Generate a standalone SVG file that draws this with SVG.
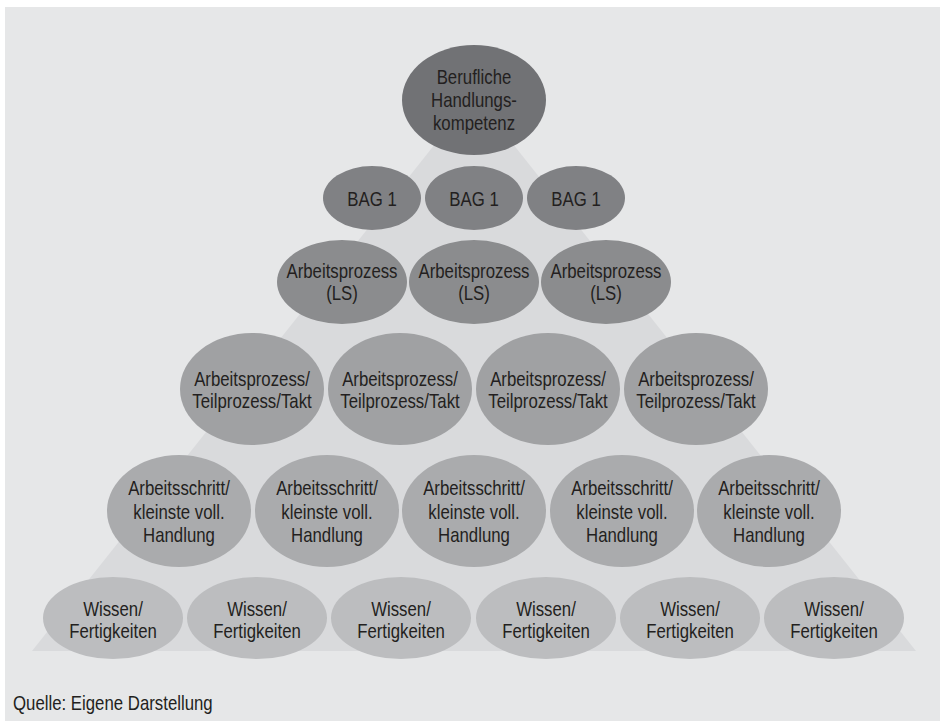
<svg xmlns="http://www.w3.org/2000/svg" width="940" height="721" viewBox="0 0 940 721">
<style>
text{font-family:"Liberation Sans",Arial,sans-serif;font-size:20px;fill:#231f20;text-anchor:middle}
.n1{fill:#717275}.n2{fill:#808184}.n3{fill:#8b8c8e}.n4{fill:#a0a1a3}.n5{fill:#aaabad}.n6{fill:#bcbdbf}
</style>
<rect width="940" height="721" fill="#ffffff"/>
<rect x="5" y="7" width="935" height="714" fill="#e6e7e8"/>
<polygon points="474,95 32,651 916,651" fill="#d9dadc"/>
<g id="connectors"></g>
<g id="top"><ellipse class="n1" cx="474" cy="100" rx="72" ry="55"/><g transform="translate(474 0) scale(0.84 1)"><text x="0" y="84">Berufliche</text><text x="0" y="107">Handlungs-</text><text x="0" y="130">kompetenz</text></g></g>
<g id="bag1"><ellipse class="n2" cx="372" cy="198" rx="49" ry="32"/><g transform="translate(372 0) scale(0.84 1)"><text x="0" y="206">BAG 1</text></g></g>
<g id="bag2"><ellipse class="n2" cx="474" cy="198" rx="49" ry="32"/><g transform="translate(474 0) scale(0.84 1)"><text x="0" y="206">BAG 1</text></g></g>
<g id="bag3"><ellipse class="n2" cx="576" cy="198" rx="49" ry="32"/><g transform="translate(576 0) scale(0.84 1)"><text x="0" y="206">BAG 1</text></g></g>
<g id="ls1"><ellipse class="n3" cx="342" cy="282" rx="65" ry="42"/><g transform="translate(342 0) scale(0.84 1)"><text x="0" y="278">Arbeitsprozess</text><text x="0" y="300">(LS)</text></g></g>
<g id="ls2"><ellipse class="n3" cx="474" cy="282" rx="65" ry="42"/><g transform="translate(474 0) scale(0.84 1)"><text x="0" y="278">Arbeitsprozess</text><text x="0" y="300">(LS)</text></g></g>
<g id="ls3"><ellipse class="n3" cx="606" cy="282" rx="65" ry="42"/><g transform="translate(606 0) scale(0.84 1)"><text x="0" y="278">Arbeitsprozess</text><text x="0" y="300">(LS)</text></g></g>
<g id="tp1"><ellipse class="n4" cx="252" cy="389" rx="72" ry="56"/><g transform="translate(252 0) scale(0.84 1)"><text x="0" y="386">Arbeitsprozess/</text><text x="0" y="408">Teilprozess/Takt</text></g></g>
<g id="tp2"><ellipse class="n4" cx="400" cy="389" rx="72" ry="56"/><g transform="translate(400 0) scale(0.84 1)"><text x="0" y="386">Arbeitsprozess/</text><text x="0" y="408">Teilprozess/Takt</text></g></g>
<g id="tp3"><ellipse class="n4" cx="548" cy="389" rx="72" ry="56"/><g transform="translate(548 0) scale(0.84 1)"><text x="0" y="386">Arbeitsprozess/</text><text x="0" y="408">Teilprozess/Takt</text></g></g>
<g id="tp4"><ellipse class="n4" cx="696" cy="389" rx="72" ry="56"/><g transform="translate(696 0) scale(0.84 1)"><text x="0" y="386">Arbeitsprozess/</text><text x="0" y="408">Teilprozess/Takt</text></g></g>
<g id="as1"><ellipse class="n5" cx="179" cy="511" rx="72" ry="56"/><g transform="translate(179 0) scale(0.84 1)"><text x="0" y="495">Arbeitsschritt/</text><text x="0" y="519">kleinste voll.</text><text x="0" y="542">Handlung</text></g></g>
<g id="as2"><ellipse class="n5" cx="327" cy="511" rx="72" ry="56"/><g transform="translate(327 0) scale(0.84 1)"><text x="0" y="495">Arbeitsschritt/</text><text x="0" y="519">kleinste voll.</text><text x="0" y="542">Handlung</text></g></g>
<g id="as3"><ellipse class="n5" cx="474" cy="511" rx="72" ry="56"/><g transform="translate(474 0) scale(0.84 1)"><text x="0" y="495">Arbeitsschritt/</text><text x="0" y="519">kleinste voll.</text><text x="0" y="542">Handlung</text></g></g>
<g id="as4"><ellipse class="n5" cx="622" cy="511" rx="72" ry="56"/><g transform="translate(622 0) scale(0.84 1)"><text x="0" y="495">Arbeitsschritt/</text><text x="0" y="519">kleinste voll.</text><text x="0" y="542">Handlung</text></g></g>
<g id="as5"><ellipse class="n5" cx="769" cy="511" rx="72" ry="56"/><g transform="translate(769 0) scale(0.84 1)"><text x="0" y="495">Arbeitsschritt/</text><text x="0" y="519">kleinste voll.</text><text x="0" y="542">Handlung</text></g></g>
<g id="wf1"><ellipse class="n6" cx="113" cy="618" rx="70" ry="41"/><g transform="translate(113 0) scale(0.84 1)"><text x="0" y="616">Wissen/</text><text x="0" y="638">Fertigkeiten</text></g></g>
<g id="wf2"><ellipse class="n6" cx="257" cy="618" rx="70" ry="41"/><g transform="translate(257 0) scale(0.84 1)"><text x="0" y="616">Wissen/</text><text x="0" y="638">Fertigkeiten</text></g></g>
<g id="wf3"><ellipse class="n6" cx="401" cy="618" rx="70" ry="41"/><g transform="translate(401 0) scale(0.84 1)"><text x="0" y="616">Wissen/</text><text x="0" y="638">Fertigkeiten</text></g></g>
<g id="wf4"><ellipse class="n6" cx="546" cy="618" rx="70" ry="41"/><g transform="translate(546 0) scale(0.84 1)"><text x="0" y="616">Wissen/</text><text x="0" y="638">Fertigkeiten</text></g></g>
<g id="wf5"><ellipse class="n6" cx="690" cy="618" rx="70" ry="41"/><g transform="translate(690 0) scale(0.84 1)"><text x="0" y="616">Wissen/</text><text x="0" y="638">Fertigkeiten</text></g></g>
<g id="wf6"><ellipse class="n6" cx="834" cy="618" rx="70" ry="41"/><g transform="translate(834 0) scale(0.84 1)"><text x="0" y="616">Wissen/</text><text x="0" y="638">Fertigkeiten</text></g></g>
<g transform="translate(13 0) scale(0.84 1)"><text x="0" y="710" style="text-anchor:start">Quelle: Eigene Darstellung</text></g>
</svg>
